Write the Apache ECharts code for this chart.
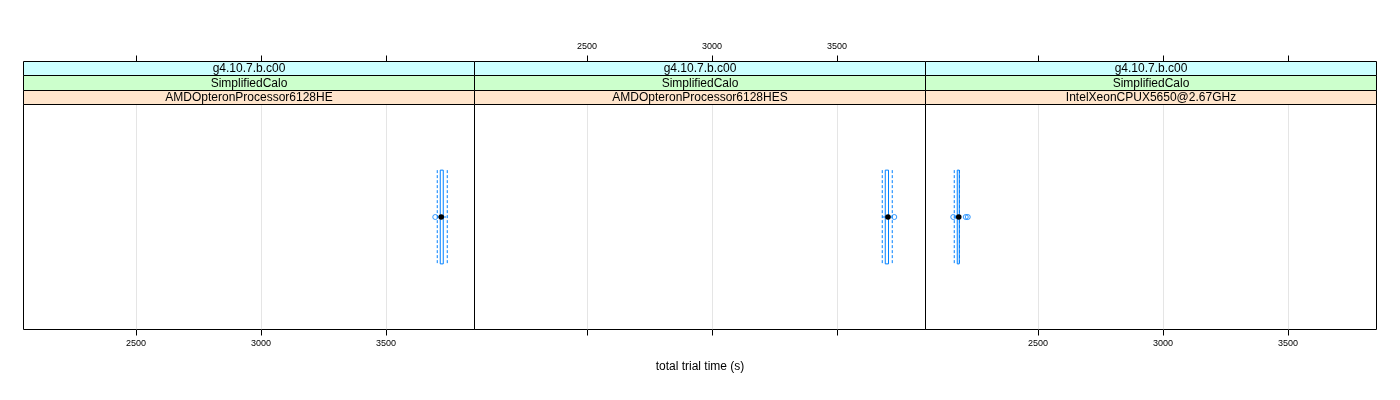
<!DOCTYPE html>
<html><head><meta charset="utf-8">
<script src="https://cdn.jsdelivr.net/npm/echarts@6/dist/echarts.min.js"></script>
<style>html,body{margin:0;padding:0;background:#fff}#c{width:1400px;height:400px}</style>
</head><body><div id="c"></div>
<script>
// ---- data ----
const panelNames = ['AMDOpteronProcessor6128HE', 'AMDOpteronProcessor6128HES', 'IntelXeonCPUX5650@2.67GHz'];
const stripVersion = ['g4.10.7.b.c00', 'g4.10.7.b.c00', 'g4.10.7.b.c00'];
const stripModel = ['SimplifiedCalo', 'SimplifiedCalo', 'SimplifiedCalo'];
const whiskerLow = [3705, 3681, 2165];
const q1 = [3717, 3693, 2177];
const median = [3721, 3704, 2183];
const q3 = [3729, 3706, 2185];
const whiskerHigh = [3745, 3721, 2186];
const outliers = [[3697], [3729], [2161, 2211, 2219]];
const tickValues = [2500, 3000, 3500];
const xMin = 2050, xMax = 3854;
const xTitle = 'total trial time (s)';

// ---- layout ----
const panelLeft = [23.5, 474.5, 925.5];
const panelW = 451;
const plotTop = 104.5, plotH = 225;
const stripEdges = [61.5, 75.5, 90.5, 104.5];
const blue = '#0080ff';
const font = '"Liberation Sans", Arial, Helvetica, sans-serif';

const grids = [], xAxes = [], yAxes = [], series = [], graphics = [];
panelNames.forEach((name, i) => {
  grids.push({left: panelLeft[i], width: panelW, top: plotTop, height: plotH,
    show: true, borderColor: '#000', borderWidth: 1, backgroundColor: 'transparent', containLabel: false});
  const common = {type: 'value', gridIndex: i, min: xMin, max: xMax,
    axisLine: {show: false},
    axisTick: {show: true, length: 6, inside: false, customValues: tickValues, lineStyle: {color: '#000', width: 1}},
    splitLine: {show: false},
  };
  const lbl = {customValues: tickValues, margin: 10, fontSize: 9, color: '#000', fontFamily: font,
    formatter: v => String(v)};
  xAxes.push(Object.assign({}, common, {position: 'bottom',
    axisLabel: Object.assign({show: i !== 1}, lbl),
    splitLine: {show: true, lineStyle: {color: '#e5e5e5', width: 1}}
  }));
  xAxes.push(Object.assign({}, common, {position: 'top', offset: plotTop - stripEdges[0],
    axisLabel: Object.assign({show: i === 1}, lbl)
  }));
  yAxes.push({type: 'value', gridIndex: i, min: 0.4, max: 1.6, show: false});

  series.push({
    type: 'custom', xAxisIndex: 2 * i, yAxisIndex: i, silent: true, z: 3,
    data: [[whiskerLow[i], q1[i], median[i], q3[i], whiskerHigh[i], 1]],
    renderItem: function (params, api) {
      const lo = api.value(0), a = api.value(1), m = api.value(2), b = api.value(3), hi = api.value(4), y = api.value(5);
      const half = 0.25;
      const yt = api.coord([a, y + half])[1], yb = api.coord([a, y - half])[1], yc = api.coord([a, y])[1];
      const xlo = api.coord([lo, y])[0], xa = api.coord([a, y])[0], xm = api.coord([m, y])[0],
            xb = api.coord([b, y])[0], xhi = api.coord([hi, y])[0];
      const dash = {stroke: blue, lineWidth: 1, lineDash: [3, 2], fill: null};
      return {type: 'group', children: [
        {type: 'line', shape: {x1: xlo, y1: yc, x2: xa, y2: yc}, style: dash},
        {type: 'line', shape: {x1: xb, y1: yc, x2: xhi, y2: yc}, style: dash},
        {type: 'line', shape: {x1: xlo, y1: yt, x2: xlo, y2: yb}, style: dash},
        {type: 'line', shape: {x1: xhi, y1: yt, x2: xhi, y2: yb}, style: dash},
        {type: 'rect', shape: {x: xa, y: yt, width: xb - xa, height: yb - yt}, style: {stroke: blue, fill: null, lineWidth: 1}},
        {type: 'circle', shape: {cx: xm, cy: yc, r: 2.8}, style: {fill: '#000'}, z2: 10}
      ]};
    }
  });
  series.push({
    type: 'scatter', xAxisIndex: 2 * i, yAxisIndex: i, silent: true, z: 2,
    symbol: 'circle', symbolSize: 5,
    itemStyle: {color: 'rgba(0,0,0,0)', borderColor: blue, borderWidth: 1},
    data: outliers[i].map(v => [v, 1])
  });

  const strips = [[stripVersion[i], '#ccffff'], [stripModel[i], '#ccffcc'], [name, '#ffe5cc']];
  strips.forEach((s, k) => {
    const y0 = stripEdges[k], h = stripEdges[k + 1] - stripEdges[k];
    graphics.push({type: 'rect', silent: true, z: 5,
      shape: {x: panelLeft[i], y: y0, width: panelW, height: h},
      style: {fill: s[1], stroke: '#000', lineWidth: 1}});
    graphics.push({type: 'text', silent: true, z: 6,
      x: panelLeft[i] + panelW / 2, y: y0 + h / 2 + 0.5,
      style: {text: s[0], fill: '#000', font: '12px ' + font, align: 'center', verticalAlign: 'middle'}});
  });
});

graphics.push({type: 'text', silent: true, x: (panelLeft[0] + panelLeft[2] + panelW) / 2, y: 367,
  style: {text: xTitle, fill: '#000', font: '12px ' + font, align: 'center', verticalAlign: 'middle'}});

const chart = echarts.init(document.getElementById('c'), null, {renderer: 'canvas'});
chart.setOption({
  animation: false,
  backgroundColor: '#fff',
  grid: grids, xAxis: xAxes, yAxis: yAxes, series: series, graphic: graphics
});
</script></body></html>
